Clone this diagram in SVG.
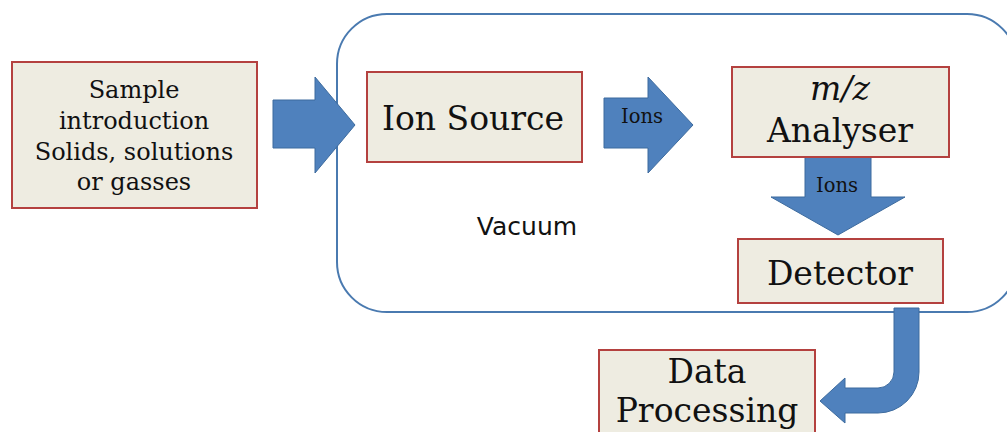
<svg xmlns="http://www.w3.org/2000/svg" width="1007" height="432" viewBox="0 0 1007 432">
  <style>
    .box { fill: #EEECE1; stroke: #B4413F; stroke-width: 2; }
    .arrow { fill: #4F81BD; stroke: #3D6B9E; stroke-width: 1; }
    .lbl { font-family: "DejaVu Serif", "Liberation Serif", serif; fill: #111; text-anchor: middle; }
    .big { font-size: 33px; }
    .mid { font-size: 24px; }
    .small { font-size: 19.5px; }
    .sans { font-family: "DejaVu Sans", "Liberation Sans", sans-serif; font-size: 25px; fill: #111; text-anchor: middle; }
  </style>

  <rect width="1007" height="432" fill="#FFFFFF"/>

  <!-- vacuum enclosure -->
  <g id="vacuum">
    <rect x="337" y="14" width="680" height="298" rx="50" ry="50" fill="none" stroke="#4A7AB0" stroke-width="2"/>
    <text class="sans" x="527" y="235">Vacuum</text>
  </g>

  <!-- block arrows between stages -->
  <g id="connectors">
    <polygon class="arrow" points="273,100 315,100 315,77 355,125 315,173 315,148 273,148"/>
    <polygon class="arrow" points="604,98 648,98 648,77 693,125 648,173 648,148 604,148"/>
    <text class="lbl small" x="642" y="123">Ions</text>
    <polygon class="arrow" points="805,157 871,157 871,197 905,197 838,235 771,197 805,197"/>
    <text class="lbl small" x="837" y="192">Ions</text>
    <path class="arrow" d="M894,308 L919,308 L919,372 A41,41 0 0 1 878,413 L845,413 L845,423 L820,401 L845,378 L845,388 L878,388 A16,16 0 0 0 894,372 Z"/>
  </g>

  <g id="sample">
    <rect class="box" x="12" y="62" width="245" height="146"/>
    <text class="lbl mid" x="134" y="98">Sample</text>
    <text class="lbl mid" x="134" y="129">introduction</text>
    <text class="lbl mid" x="134" y="160">Solids, solutions</text>
    <text class="lbl mid" x="134" y="190">or gasses</text>
  </g>

  <g id="ion-source">
    <rect class="box" x="367" y="72" width="215" height="90"/>
    <text class="lbl big" x="473" y="130">Ion Source</text>
  </g>

  <g id="analyser">
    <rect class="box" x="732" y="67" width="217" height="90"/>
    <text class="lbl big" x="840" y="100" font-style="italic">m/z</text>
    <text class="lbl big" x="840" y="142">Analyser</text>
  </g>

  <g id="detector">
    <rect class="box" x="738" y="239" width="205" height="64"/>
    <text class="lbl big" x="840" y="285">Detector</text>
  </g>

  <g id="data-processing">
    <rect class="box" x="599" y="350" width="216" height="100"/>
    <text class="lbl big" x="707" y="383">Data</text>
    <text class="lbl big" x="707" y="422">Processing</text>
  </g>
</svg>
